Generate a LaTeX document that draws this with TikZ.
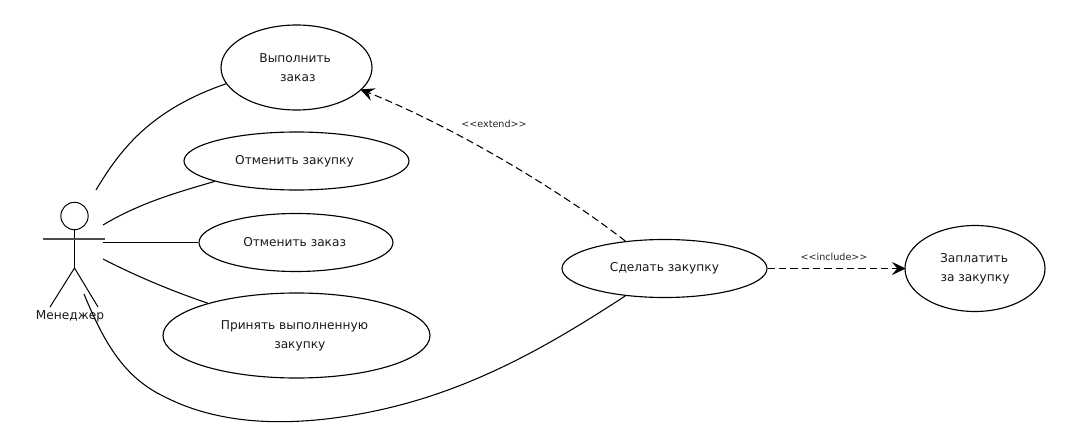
\documentclass[tikz,border=0pt]{standalone}
\usepackage{fontspec}
\setmainfont{DejaVu Sans}
\usetikzlibrary{shapes.geometric,arrows.meta}
\tikzset{
  usecase/.style={draw=black,ellipse,line width=0.85pt,inner sep=0pt,align=center,font=\fontsize{9.15}{14.2}\selectfont,text=black!90},
  conn/.style={draw=black,line width=0.8pt},
  dep/.style={conn,dash pattern=on 5.5pt off 3pt,shorten >=-1pt,-{Stealth[length=10.5pt,width=10pt,inset=4pt,line width=0pt]}},
  actorline/.style={draw=black,line width=0.75pt},
  stereo/.style={font=\fontsize{7.2}{9}\selectfont,text=black!85,inner sep=0pt}
}
\begin{document}
\begin{tikzpicture}[x=0.75pt,y=-0.75pt]
\useasboundingbox (0,0) rectangle (1070,428);
\fill[white] (0,0) rectangle (1070,428);
\node[usecase,minimum width=113.25pt,minimum height=63.75pt] (vypolnit) at (296.5,67.5) {\hspace*{-2pt}Выполнить\\\hspace*{2pt}заказ};
\node[usecase,minimum width=168.75pt,minimum height=43.5pt] (otmzakupku) at (296.5,161) {\hspace*{-3pt}Отменить закупку};
\node[usecase,minimum width=145.5pt,minimum height=43.5pt] (otmzakaz) at (296,242.5) {\hspace*{-2pt}Отменить заказ};
\node[usecase,minimum width=200.25pt,minimum height=63.75pt] (prinyat) at (296.5,335.5) {\hspace*{-3pt}Принять выполненную\\\hspace*{5pt}закупку};
\node[usecase,minimum width=153.75pt,minimum height=43.5pt] (sdelat) at (664.5,268.5) {Сделать закупку};
\node[usecase,minimum width=105pt,minimum height=64.5pt] (zaplatit) at (975,268.5) {\hspace*{-1.5pt}Заплатить\\за закупку};
% actor
\node[draw=black,circle,line width=0.75pt,minimum size=20.5pt,inner sep=0pt] (head) at (74.5,216) {};
\coordinate (armL) at (43,239);
\coordinate (armR) at (105,239);
\coordinate (hip) at (74.5,268);
\coordinate (footL) at (50,307);
\coordinate (footR) at (98,307);
\draw[actorline] (head.south) -- (hip);
\draw[draw=black!70,line width=0.85pt] (armL) -- (armR);
\draw[actorline] (footL) -- (hip) -- (footR);
\node[font=\fontsize{9.15}{12}\selectfont,text=black!90,inner sep=0pt] (manager) at (70,316.5) {Менеджер};
% free ends near the actor
\coordinate (a1) at (96,190);
\coordinate (a2) at (103,225);
\coordinate (a3) at (103,242.5);
\coordinate (a4) at (103,259);
\coordinate (a5) at (84,294);
\draw[conn] (a1) .. controls (120,150) and (150,110) .. (vypolnit.193.7);
\draw[conn] (a2) .. controls (140,203) and (175,193) .. (otmzakupku.194.8);
\draw[conn] (a3) -- (otmzakaz.west);
\draw[conn] (a4) .. controls (140,278) and (175,292) .. (prinyat.160.4);
\draw[conn] (a5) .. controls (105,345) and (125,378) .. (165,397) .. controls (220,425) and (290,428) .. (370,412) .. controls (470,392) and (550,345) .. (sdelat.215.3);
\draw[dep] (sdelat.145.6) .. controls (560,190) and (450,125) .. (vypolnit.-19.5);
\draw[dep] (sdelat.east) -- (zaplatit.west);
\node[stereo] (extend) at (494,123.5) {<{}<extend>{}>};
\node[stereo] (include) at (834,256.5) {<{}<include>{}>};
\end{tikzpicture}
\end{document}
